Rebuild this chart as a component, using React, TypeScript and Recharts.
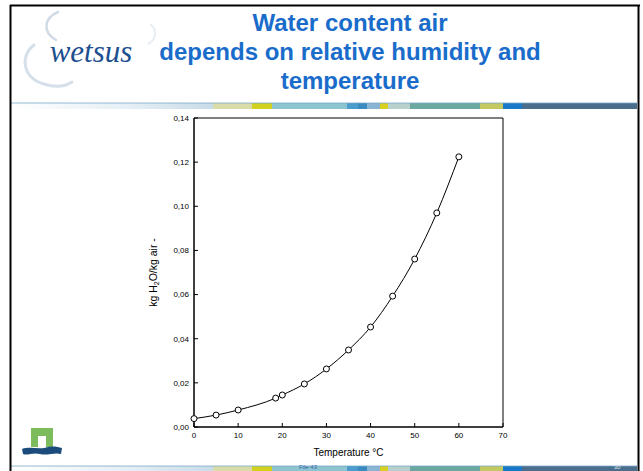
import React from 'react';
import { LineChart, Line, XAxis, YAxis, Label, ReferenceArea } from 'recharts';

const temperatures = [0, 5, 10, 18.5, 20, 25, 30, 35, 40, 45, 50, 55, 60];
const waterContent = [0.0038, 0.0054, 0.0077, 0.0131, 0.0145, 0.0195, 0.0263, 0.0349, 0.0453, 0.0593, 0.0761, 0.097, 0.1224];
const xTicks = [0, 10, 20, 30, 40, 50, 60, 70];
const yTicks = [0, 0.02, 0.04, 0.06, 0.08, 0.1, 0.12, 0.14];
const titleLines = ['Water content air', 'depends on relative humidity and', 'temperature'];

const data = temperatures.map((t, i) => ({ t, w: waterContent[i] }));

const FONT = '"Liberation Sans", Arial, sans-serif';

const stripeSegments: [number, number, string][] = [
  [213, 252, '#d9dca8'],
  [252, 272, '#d2d21e'],
  [272, 347, '#8cc4d0'],
  [347, 358, '#4a9ccc'],
  [358, 367, '#3a8cc0'],
  [367, 380, '#8ab4d4'],
  [380, 388, '#d8d020'],
  [388, 410, '#b8d0cc'],
  [410, 480, '#6aa8a0'],
  [480, 503, '#c4c860'],
  [503, 522, '#1a78c8'],
  [522, 637, '#4a6e8c'],
];

function Stripe({ y, h }: { y: number; h: number }) {
  return (
    <g>
      <defs>
        <linearGradient id={`fade${y}`} x1="0" x2="1" y1="0" y2="0">
          <stop offset="0" stopColor="#ffffff" />
          <stop offset="0.6" stopColor="#e4eef4" />
          <stop offset="1" stopColor="#c8dce8" />
        </linearGradient>
      </defs>
      <rect x={11} y={y} width={202} height={h} fill={`url(#fade${y})`} />
      {stripeSegments.map(([a, b, c], i) => (
        <rect key={i} x={a} y={y} width={b - a} height={h} fill={c} />
      ))}
      <line x1={11} x2={637} y1={y} y2={y} stroke="#7aa8c8" strokeWidth={0.8} />
    </g>
  );
}

function Decoration() {
  return (
    <svg width={643} height={471} style={{ position: 'absolute', left: 0, top: 0 }}>
      <rect x={0} y={0} width={643} height={471} fill="#ffffff" />
      {/* cloud wisps */}
      <path d="M58,12 C44,18 42,32 56,40" fill="none" stroke="#d0dbe6" strokeWidth={2.5} strokeLinecap="round" />
      <path d="M34,45 C20,55 22,78 44,84 C56,88 66,86 72,82" fill="none" stroke="#d6e0ea" strokeWidth={3} strokeLinecap="round" />
      <path d="M150,24 C158,30 156,40 148,44" fill="none" stroke="#e8eef4" strokeWidth={2} />
      <text x={91} y={62} textAnchor="middle" fontFamily='"Liberation Serif", "Times New Roman", serif' fontStyle="italic" fontSize={31} fill="#1d4f8f">wetsus</text>
      {titleLines.map((s, i) => (
        <text key={i} x={350} y={31 + i * 29} textAnchor="middle" fontFamily={FONT} fontWeight="bold" fontSize={24} fill="#1a6ccb">{s}</text>
      ))}
      <Stripe y={103} h={6} />
      <Stripe y={466} h={5} />
      <text x={308} y={469} textAnchor="middle" fontFamily={FONT} fontSize={6} fill="#3a6aa8">File 43</text>
      <text x={617} y={469} textAnchor="middle" fontFamily={FONT} fontSize={6} fill="#dde6ee">30</text>
      {/* bottom-left logo */}
      <path d="M31,447 L31,428 L53,428 L53,447 L46,447 L46,436 L38,436 L38,447 Z" fill="#7cbc5c" />
      <path d="M22,449 C30,446 40,450 48,447 C54,446 58,447 62,448 L61,454 C54,452 48,456 40,454 C32,452 28,456 23,454 Z" fill="#1c4c7c" />
      {/* slide border */}
      <line x1={10.5} y1={5} x2={10.5} y2={471} stroke="#000" strokeWidth={2} />
      <line x1={10} y1={5.5} x2={640} y2={5.5} stroke="#000" strokeWidth={2} />
      <line x1={638.5} y1={5} x2={638.5} y2={471} stroke="#000" strokeWidth={2} />
    </svg>
  );
}

const fmt = (v: number) => v.toFixed(2).replace('.', ',');

const YLabel = (props: any) => {
  const vb = props.viewBox || {};
  const cx = vb.x + 23;
  const cy = vb.y + vb.height / 2;
  return (
    <text transform={`translate(${cx},${cy}) rotate(-90)`} textAnchor="middle" fontFamily={FONT} fontSize={10.5} fill="#000">
      kg H<tspan dy={2} fontSize={7}>2</tspan><tspan dy={-2}>O/kg air -</tspan>
    </text>
  );
};

export default function App() {
  return (
    <div style={{ position: 'absolute', left: 0, top: 0, width: 643, height: 471 }}>
      <Decoration />
      <div style={{ position: 'absolute', left: 0, top: 0 }}>
        <LineChart width={643} height={471} data={data} margin={{ top: 118, right: 140, bottom: 14, left: 134 }}>
          <XAxis
            dataKey="t"
            type="number"
            domain={[0, 70]}
            ticks={xTicks}
            interval={0}
            height={30}
            tickSize={-4}
            tickMargin={9}
            axisLine={{ stroke: '#000' }}
            tickLine={{ stroke: '#000' }}
            tick={{ fontSize: 8, fontFamily: FONT, fill: '#000' }}
          >
            <Label value="Temperature °C" position="insideBottom" offset={1} style={{ fontSize: 10, fontFamily: FONT, fill: '#000' }} />
          </XAxis>
          <YAxis
            type="number"
            domain={[0, 0.14]}
            ticks={yTicks}
            interval={0}
            width={60}
            tickSize={-4}
            tickMargin={9}
            tickFormatter={fmt}
            axisLine={{ stroke: '#000' }}
            tickLine={{ stroke: '#000' }}
            tick={{ fontSize: 8, fontFamily: FONT, fill: '#000' }}
          >
            <Label content={YLabel} />
          </YAxis>
          <ReferenceArea x1={0} x2={70} y1={0} y2={0.14} fill="none" stroke="#000" strokeWidth={1} ifOverflow="visible" />
          <Line
            dataKey="w"
            type="monotone"
            stroke="#000"
            strokeWidth={1}
            dot={{ r: 3, fill: '#fff', stroke: '#000', strokeWidth: 1 }}
            isAnimationActive={false}
          />
        </LineChart>
      </div>
    </div>
  );
}
